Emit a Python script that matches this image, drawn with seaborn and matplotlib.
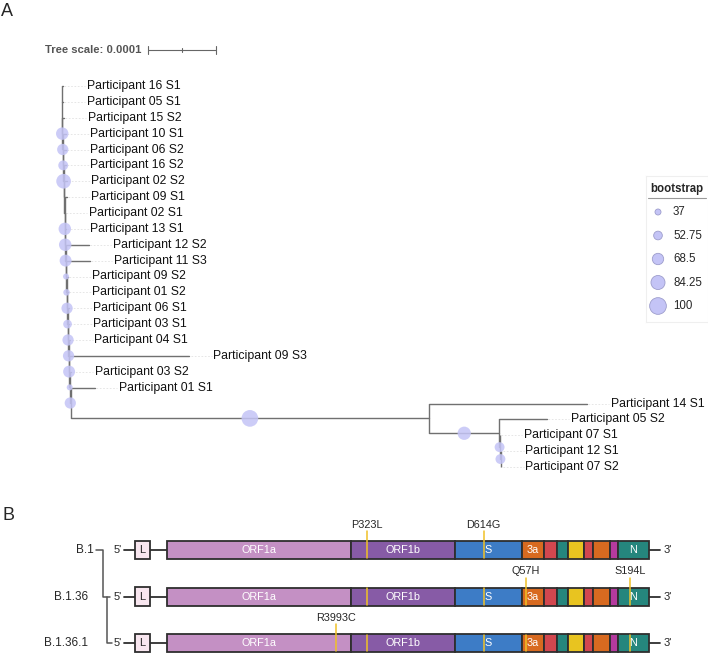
import matplotlib.pyplot as plt
import numpy as np
import pandas as pd
import seaborn as sns

# ---------------- panel A: phylogeny ----------------
# branch depths in units of 1e-5 substitutions/site (scale bar = 0.0001 = 10 units)
LEAF_NAMES = [
    "Participant 16 S1", "Participant 05 S1", "Participant 15 S2", "Participant 10 S1",
    "Participant 06 S2", "Participant 16 S2", "Participant 02 S2", "Participant 09 S1",
    "Participant 02 S1", "Participant 13 S1", "Participant 12 S2", "Participant 11 S3",
    "Participant 09 S2", "Participant 01 S2", "Participant 06 S1", "Participant 03 S1",
    "Participant 04 S1", "Participant 09 S3", "Participant 03 S2", "Participant 01 S1",
    "Participant 14 S1", "Participant 05 S2", "Participant 07 S1", "Participant 12 S1",
    "Participant 07 S2",
]
LEAF_TIP = [0.15, 0.15, 0.3, 0.6, 0.6, 0.6, 0.75, 0.75, 0.45, 0.6, 3.95, 4.1, 0.9,
            0.9, 1.05, 1.05, 1.2, 18.7, 1.3, 4.85, 77.2, 71.3, 64.4, 64.6, 64.6]
# index of the (caterpillar) internal node each leaf hangs from
LEAF_NODE = [0, 0, 1, 2, 3, 4, 5, 6, 7, 8, 9, 10, 11, 12, 13, 14, 15, 16, 17, 18,
             19, 20, 21, 22, 22]
NODE_DEPTH = [0.0, 0.07, 0.15, 0.21, 0.26, 0.32, 0.38, 0.44, 0.5, 0.56, 0.63, 0.71,
              0.78, 0.85, 0.93, 1.0, 1.09, 1.18, 1.26, 54.0, 64.3, 64.4, 64.55]
NODE_SUPPORT = [np.nan, 75, 68, 60, 88, np.nan, np.nan, 75, 75, 72, 37, 40, 68, 53,
                68, 68, 72, 37, 68, 100, 80, 60, 60]
LEGEND_VALUES = [37, 52.75, 68.5, 84.25, 100]

# ---------------- panel B: genome schematic ----------------
LINEAGES = ["B.1", "B.1.36", "B.1.36.1"]
GENES = ["ORF1a", "ORF1b", "S", "3a", "E", "M", "6", "7a", "7b", "8", "N"]
GENE_WIDTH = [184, 104, 67, 22, 13, 11, 16, 9, 17, 8, 31]  # schematic, not to scale
GENE_LABELED = ["ORF1a", "ORF1b", "S", "3a", "N"]
MUTATIONS = ["P323L", "D614G", "Q57H", "S194L", "R3993C"]
MUT_GENE = ["ORF1b", "S", "3a", "N", "ORF1a"]
MUT_FRAC = [0.15, 0.43, 0.18, 0.39, 0.92]
MUT_LINEAGE = [0, 0, 1, 1, 2]

GENE_COLORS = {
    "ORF1a": "#c490c4", "ORF1b": "#875ba6", "S": "#3d7cc6", "3a": "#d86a20",
    "E": "#d2474f", "M": "#25867d", "6": "#e8c420", "7a": "#d2474f",
    "7b": "#d86a20", "8": "#b43a9e", "N": "#25867d",
}
BUBBLE = "#c4c4f6"
BRANCH = "#707070"
OUTLINE = "#2e2e2e"
MUT_COLOR = "#f0c127"

PX = 6.8  # pixels per tree unit


def bubble_area(v):
    diam_px = 6 + (v - 37) * 10.7 / 63
    return (diam_px * 0.72) ** 2


def layout_nodes():
    n_nodes = len(NODE_DEPTH)
    node_y = np.zeros(n_nodes)
    first = np.zeros(n_nodes)
    last = np.zeros(n_nodes)
    for k in range(n_nodes - 1, -1, -1):
        rows = [i for i, nd in enumerate(LEAF_NODE) if nd == k]
        first[k] = rows[0]
        last[k] = node_y[k + 1] if k + 1 < n_nodes else rows[-1]
        node_y[k] = (first[k] + last[k]) / 2
    return node_y, first, last


def draw_tree(fig):
    ax = fig.add_axes([0, 1 - 480 / 655, 1, 480 / 655])
    ax.set_xlim(-62 / PX, (708 - 62) / PX)
    ax.set_ylim((480 - 86) / 15.875, -86 / 15.875)
    ax.axis("off")

    node_y, first, last = layout_nodes()
    for k, depth in enumerate(NODE_DEPTH):
        ax.plot([depth, depth], [first[k], last[k]], color=BRANCH, lw=1.0,
                solid_capstyle="butt", zorder=2)
        if k > 0:
            ax.plot([NODE_DEPTH[k - 1], depth], [node_y[k], node_y[k]], color=BRANCH,
                    lw=1.0, zorder=2)

    for row, (name, tip, nd) in enumerate(zip(LEAF_NAMES, LEAF_TIP, LEAF_NODE)):
        ax.plot([NODE_DEPTH[nd], tip], [row, row], color=BRANCH, lw=1.0, zorder=2)
        ax.plot([tip + 0.2, tip + 3.3], [row, row], color="#e2e2e2", lw=0.6,
                ls=(0, (2, 2)), zorder=1)
        ax.text(tip + 3.5, row, name, fontsize=8.8, va="center", ha="left",
                color="#111111")

    bubbles = pd.DataFrame({
        "x": [(NODE_DEPTH[k - 1] + NODE_DEPTH[k]) / 2 for k in range(1, len(NODE_DEPTH))],
        "y": node_y[1:],
        "support": NODE_SUPPORT[1:],
    }).dropna()
    sns.scatterplot(data=bubbles, x="x", y="y", size="support",
                    sizes={v: bubble_area(v) for v in bubbles["support"].unique()},
                    color=BUBBLE, alpha=0.85, edgecolor="none", linewidth=0,
                    legend=False, ax=ax, zorder=3)
    ax.set_xlabel("")
    ax.set_ylabel("")

    # tree scale bar: 0.0001 = 10 units
    bar_y = (50 - 86) / 15.875
    x0 = (148 - 62) / PX
    ax.plot([x0, x0 + 10], [bar_y, bar_y], color="#666666", lw=0.8)
    for t, h in [(x0, 0.25), (x0 + 5, 0.12), (x0 + 10, 0.25)]:
        ax.plot([t, t], [bar_y - h, bar_y + h], color="#666666", lw=0.8)
    ax.text(x0 - 1.0, bar_y, "Tree scale: 0.0001", ha="right", va="center",
            fontsize=8.1, fontweight="bold", color="#555555")
    return ax


def draw_legend(fig):
    ax = fig.add_axes([646 / 708, 1 - 322 / 655, 62 / 708, 146 / 655])
    ax.set_xlim(0, 62)
    ax.set_ylim(146, 0)
    ax.set_xticks([])
    ax.set_yticks([])
    for side in ax.spines.values():
        side.set_color("#efefef")
        side.set_linewidth(0.8)
    ax.text(4, 13, "bootstrap", fontsize=8.3, fontweight="bold", va="center", ha="left")
    ax.plot([2, 60], [22, 22], color="#999999", lw=0.8)
    ys = 36 + 23.5 * np.arange(len(LEGEND_VALUES))
    ax.scatter([12] * len(LEGEND_VALUES), ys, s=[bubble_area(v) for v in LEGEND_VALUES],
               color=BUBBLE, edgecolor="#9d9dcc", linewidth=0.6)
    for v, y in zip(LEGEND_VALUES, ys):
        ax.text(27, y, f"{v:g}", fontsize=8.3, va="center", ha="left")


def draw_genomes(fig):
    ax = fig.add_axes([0, 0, 1, 165 / 655])
    row_px = 46.5
    ax.set_xlim(0, 708)
    ax.set_ylim(-60 / row_px + 165 / row_px, -60 / row_px)
    ax.axis("off")
    bar_h = 18 / row_px

    starts = 167 + np.concatenate([[0], np.cumsum(GENE_WIDTH)[:-1]])
    end = starts[-1] + GENE_WIDTH[-1]
    gene_start = dict(zip(GENES, starts))
    gene_width = dict(zip(GENES, GENE_WIDTH))
    mut_x = [gene_start[g] + f * gene_width[g] for g, f in zip(MUT_GENE, MUT_FRAC)]

    for r, lineage in enumerate(LINEAGES):
        ax.plot([124, 167], [r, r], color=OUTLINE, lw=1.3, zorder=1)
        ax.plot([end, end + 11], [r, r], color=OUTLINE, lw=1.3, zorder=1)
        ax.text(118, r, "5'", fontsize=8, ha="center", va="center")
        ax.text(664, r, "3'", fontsize=8, ha="left", va="center")
        ax.barh(r, 15, left=135, height=bar_h * 1.05, color="#f8e6ef",
                edgecolor=OUTLINE, linewidth=1.3, zorder=2)
        ax.text(142.5, r, "L", fontsize=8, ha="center", va="center", zorder=3)
        ax.barh([r] * len(GENES), GENE_WIDTH, left=starts, height=bar_h,
                color=[GENE_COLORS[g] for g in GENES], edgecolor=OUTLINE,
                linewidth=1.3, zorder=2)
        for g in GENE_LABELED:
            ax.text(gene_start[g] + gene_width[g] / 2, r, g, color="white", fontsize=7.8,
                    ha="center", va="center", zorder=4)
        for m, x, lin in zip(MUTATIONS, mut_x, MUT_LINEAGE):
            if lin > r:
                continue
            top = r - bar_h / 2 - (10 / row_px if lin == r else -0.02)
            ax.plot([x, x], [top, r + bar_h / 2 - 0.02], color=MUT_COLOR, lw=1.1,
                    zorder=3)
            if lin == r:
                ax.text(x, r - bar_h / 2 - 16 / row_px, m, fontsize=7.8,
                        ha="center", va="center")

    ax.text(94, 0, "B.1", fontsize=8.5, ha="right", va="center")
    ax.text(88, 1, "B.1.36", fontsize=8.5, ha="right", va="center")
    ax.text(88, 2, "B.1.36.1", fontsize=8.5, ha="right", va="center")
    ax.plot([96, 103, 103, 110], [0, 0, 1, 1], color="#555555", lw=1.1)
    ax.plot([107, 107, 112], [1, 2, 2], color="#555555", lw=1.1)


def main():
    sns.set_theme(style="white")
    plt.rcParams["font.family"] = ["Liberation Sans", "DejaVu Sans"]
    fig = plt.figure(figsize=(7.08, 6.55), dpi=100)
    draw_tree(fig)
    draw_legend(fig)
    draw_genomes(fig)
    fig.text(1 / 708, 1 - 12 / 655, "A", fontsize=13, va="center", ha="left")
    fig.text(3 / 708, 1 - 515 / 655, "B", fontsize=13, va="center", ha="left")
    fig.savefig("out.png", dpi=100)
    plt.close(fig)


if __name__ == "__main__":
    main()
